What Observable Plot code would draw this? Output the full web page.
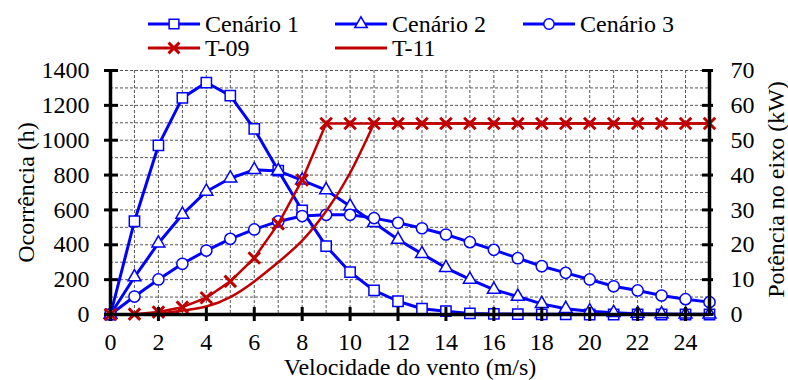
<!DOCTYPE html>
<html>
<head>
<meta charset="utf-8">
<script src="https://cdn.jsdelivr.net/npm/d3@7"></script>
<script src="https://cdn.jsdelivr.net/npm/@observablehq/plot@0.6"></script>
<style>
  body { margin: 0; background: #fff; }
  #wrap { position: relative; width: 788px; height: 380px; font-family: "Liberation Serif", serif; }
  #legend { position: absolute; left: 0; top: 0; z-index: 2; overflow: visible; }
  #chart { position: absolute; left: 0; top: 64px; z-index: 1; }
  svg text { font-family: "Liberation Serif", serif; }
</style>
</head>
<body>
<div id="wrap">
  <svg id="legend" width="788" height="64"></svg>
  <div id="chart"></div>
</div>
<script>
// ---------- data ----------
const speeds   = [0, 1, 2, 3, 4, 5, 6, 7, 8, 9, 10, 11, 12, 13, 14, 15, 16, 17, 18, 19, 20, 21, 22, 23, 24, 25];
const cenario1 = [0, 535, 970, 1243, 1331, 1256, 1065, 826, 597, 392, 243, 138, 76, 33, 19, 6, 3, 2, 1, 1, 0, 0, 0, 0, 0, 0];
const cenario2 = [0, 215, 409, 574, 706, 782, 830, 824, 770, 714, 621, 526, 430, 348, 268, 201, 143, 103, 61, 33, 19, 10, 5, 3, 2, 1];
const cenario3 = [0, 103, 201, 291, 367, 434, 488, 534, 565, 572, 572, 553, 526, 495, 459, 415, 371, 323, 277, 239, 201, 162, 138, 109, 88, 71];
const t09kW    = [0, 0.1, 0.7, 2.1, 4.8, 9.5, 16.2, 26.0, 38.6, 54.8, 54.8, 54.8, 54.8, 54.8, 54.8, 54.8, 54.8, 54.8, 54.8, 54.8, 54.8, 54.8, 54.8, 54.8, 54.8, 54.8];
const t11kW    = [0, 0.05, 0.3, 1.1, 2.3, 5.0, 9.5, 15.0, 21.2, 29.6, 40.6, 54.8, 54.8, 54.8, 54.8, 54.8, 54.8, 54.8, 54.8, 54.8, 54.8, 54.8, 54.8, 54.8, 54.8, 54.8];

const xTickLabels   = [0, 2, 4, 6, 8, 10, 12, 14, 16, 18, 20, 22, 24];
const leftTicks     = [0, 200, 400, 600, 800, 1000, 1200, 1400];
const rightTicks    = [0, 10, 20, 30, 40, 50, 60, 70];
const yGridValues   = [0, 100, 200, 300, 400, 500, 600, 700, 800, 900, 1000, 1100, 1200, 1300, 1400];

const seriesNames = ["Cenário 1", "Cenário 2", "Cenário 3", "T-09", "T-11"];
const xTitle = "Velocidade do vento (m/s)";
const yTitleLeft = "Ocorrência (h)";
const yTitleRight = "Potência no eixo (kW)";

// ---------- styling ----------
const BLUE = "#0000ff", RED = "#c00000";
const FONT = '"Liberation Serif", serif';
const FS = 24;
const kwToH = leftTicks[leftTicks.length - 1] / rightTicks[rightTicks.length - 1]; // secondary axis factor

const rows = (vals) => speeds.map((x, i) => ({x, y: vals[i]}));
const rowsKW = (vals) => speeds.map((x, i) => ({x, y: vals[i] * kwToH}));

const c1 = rows(cenario1), c2 = rows(cenario2), c3 = rows(cenario3);
const p09 = rowsKW(t09kW), p11 = rowsKW(t11kW);
// T-11: smooth rise up to rated power, then flat
const k11 = t11kW.indexOf(d3.max(t11kW));
const p11rise = p11.slice(0, k11 + 1), p11flat = p11.slice(k11);

const W = 788, H = 316, mL = 110, mR = 79, mT = 6, mB = 66;
const innerW = W - mL - mR, innerH = H - mT - mB;

const grid = {stroke: "#555", strokeOpacity: 1, strokeWidth: 1, strokeDasharray: "3,2"};

const chart = Plot.plot({
  width: W, height: H,
  marginLeft: mL, marginRight: mR, marginTop: mT, marginBottom: mB,
  style: {fontFamily: FONT, fontSize: FS + "px", background: "transparent", color: "black", overflow: "visible"},
  x: {domain: d3.extent(speeds)},
  y: {domain: [leftTicks[0], leftTicks[leftTicks.length - 1]]},
  marks: [
    Plot.gridX(speeds, grid),
    Plot.gridY(yGridValues, grid),

    // Cenário 1
    Plot.line(c1, {x: "x", y: "y", stroke: BLUE, strokeWidth: 3}),
    Plot.dot(c1, {x: "x", y: "y", symbol: "square", r: 5.8, fill: "white", stroke: BLUE, strokeWidth: 1.5}),
    // Cenário 2
    Plot.line(c2, {x: "x", y: "y", stroke: BLUE, strokeWidth: 3}),
    Plot.dot(c2, {x: "x", y: "y", symbol: "triangle", r: 4.8, fill: "white", stroke: BLUE, strokeWidth: 1.5}),
    // Cenário 3
    Plot.line(c3, {x: "x", y: "y", stroke: BLUE, strokeWidth: 3}),
    Plot.dot(c3, {x: "x", y: "y", symbol: "circle", r: 5.6, fill: "white", stroke: BLUE, strokeWidth: 1.5}),
    // T-09
    Plot.line(p09, {x: "x", y: "y", stroke: RED, strokeWidth: 2.5}),
    Plot.dot(p09, {x: "x", y: "y", symbol: "times", r: 5.3, stroke: RED, strokeWidth: 3}),
    // T-11
    Plot.line(p11rise, {x: "x", y: "y", stroke: RED, strokeWidth: 2.5, curve: "natural"}),
    Plot.line(p11flat, {x: "x", y: "y", stroke: RED, strokeWidth: 2.5}),

    // axis lines
    Plot.ruleX(d3.extent(speeds), {stroke: "black", strokeWidth: 3.5}),
    Plot.ruleY([leftTicks[0]], {stroke: "black", strokeWidth: 3.5}),

    // tick marks
    Plot.tickY(leftTicks, {y: d => d, stroke: "black", strokeWidth: 3, insetLeft: -6, insetRight: innerW - 8}),
    Plot.tickY(rightTicks.map(v => v * kwToH), {y: d => d, stroke: "black", strokeWidth: 3, insetLeft: innerW - 7, insetRight: -4}),
    Plot.tickX(xTickLabels, {x: d => d, stroke: "black", strokeWidth: 3, insetTop: innerH - 7, insetBottom: -7}),

    // tick labels
    Plot.axisX(xTickLabels, {anchor: "bottom", tickSize: 0, tickPadding: 18, label: null, fontSize: FS, tickFormat: d => String(d)}),
    Plot.axisY(leftTicks, {anchor: "left", tickSize: 0, tickPadding: 21, label: null, fontSize: FS, tickFormat: d => String(d)}),
    Plot.axisY(rightTicks.map(v => v * kwToH), {anchor: "right", tickSize: 0, tickPadding: 21, label: null, fontSize: FS,
      tickFormat: d => String(Math.round(d / kwToH))}),

    // axis titles
    Plot.text([xTitle], {text: d => d, frameAnchor: "bottom", textAnchor: "middle", lineAnchor: "middle", dy: 53, fontSize: FS}),
    Plot.text([yTitleLeft], {text: d => d, frameAnchor: "left", textAnchor: "middle", lineAnchor: "middle", dx: -84, rotate: -90, fontSize: FS}),
    Plot.text([yTitleRight], {text: d => d, frameAnchor: "right", textAnchor: "middle", lineAnchor: "middle", dx: 67, dy: -3, rotate: -90, fontSize: FS})
  ]
});
document.getElementById("chart").appendChild(chart);

// ---------- legend ----------
const legendSpec = [
  {label: seriesNames[0], color: BLUE, symbol: d3.symbolSquare,   r: 5.5, col: 0, row: 0, fill: "white", sw: 1.5},
  {label: seriesNames[1], color: BLUE, symbol: d3.symbolTriangle, r: 4.6, col: 1, row: 0, fill: "white", sw: 1.5},
  {label: seriesNames[2], color: BLUE, symbol: d3.symbolCircle,   r: 5.2, col: 2, row: 0, fill: "white", sw: 1.5},
  {label: seriesNames[3], color: RED,  symbol: d3.symbolTimes,    r: 5.0, col: 0, row: 1, fill: "none",  sw: 3},
  {label: seriesNames[4], color: RED,  symbol: null,              r: 0,   col: 1, row: 1, fill: "none",  sw: 0}
];
const colX = [148, 335, 523];
const rowY = [24, 48];
const lg = d3.select("#legend");
legendSpec.forEach(d => {
  const x0 = colX[d.col], y0 = rowY[d.row];
  const g = lg.append("g").attr("transform", `translate(${x0},${y0})`);
  g.append("line").attr("x1", 0).attr("x2", 52).attr("y1", 0).attr("y2", 0)
    .attr("stroke", d.color).attr("stroke-width", 3);
  if (d.symbol) {
    g.append("path").attr("transform", "translate(26,0)")
      .attr("d", d3.symbol(d.symbol, d.r * d.r * Math.PI)())
      .attr("fill", d.fill).attr("stroke", d.color).attr("stroke-width", d.sw);
  }
  g.append("text").attr("x", 57).attr("y", 0).attr("dy", "0.32em")
    .attr("font-family", FONT).attr("font-size", FS).attr("fill", "black")
    .text(d.label);
});
</script>
</body>
</html>
